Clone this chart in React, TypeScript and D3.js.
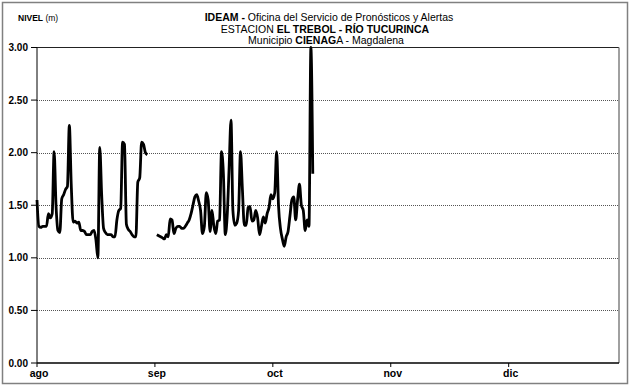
import React from "react";
import * as d3 from "d3";

// Month labels on the x axis (ticks every 31 days, as in the original)
const months = ["ago", "sep", "oct", "nov", "dic"];
const monthStartDay = [0, 31, 62, 93, 124];
const totalDays = 153;

// Y axis ticks (m)
const yTicks = [0, 0.5, 1, 1.5, 2, 2.5, 3];

// Water level readings, two per day (06h / 18h) starting 1 ago; null = no data
const nivel: (number | null)[] = [
  1.55, 1.30, 1.29, 1.30, 1.30, 1.30, 1.42, 1.38, 1.42, 2.01,
  1.50, 1.26, 1.24, 1.56, 1.60, 1.65, 1.68, 2.26, 1.70, 1.34,
  1.35, 1.33, 1.34, 1.26, 1.26, 1.25, 1.22, 1.22, 1.22, 1.25,
  1.26, 1.17, 1.00, 2.05, 1.60, 1.28, 1.24, 1.22, 1.22, 1.22,
  1.20, 1.20, 1.36, 1.45, 1.47, 2.10, 2.08, 1.32, 1.27, 1.25,
  1.22, 1.20, 1.20, 1.72, 1.76, 2.10, 2.08, 2.00, 1.98, null,
  null, null, null, 1.22, 1.21, 1.20, 1.19, 1.18, 1.22, 1.20,
  1.37, 1.36, 1.23, 1.28, 1.30, 1.30, 1.28, 1.28, 1.30, 1.33,
  1.36, 1.42, 1.50, 1.58, 1.60, 1.54, 1.45, 1.23, 1.30, 1.62,
  1.55, 1.25, 1.45, 1.30, 1.23, 1.35, 1.36, 2.01, 1.80, 1.22,
  1.40, 1.85, 2.31, 1.45, 1.31, 1.33, 1.45, 2.01, 1.65, 1.31,
  1.31, 1.48, 1.49, 1.35, 1.36, 1.45, 1.38, 1.22, 1.30, 1.39,
  1.33, 1.42, 1.48, 1.60, 1.56, 1.62, 2.01, 1.49, 1.28, 1.18,
  1.11, 1.20, 1.25, 1.40, 1.55, 1.58, 1.36, 1.55, 1.70, 1.50,
  1.45, 1.26, 1.36, 1.30, 3.00, 1.80,
];

const W = 630;
const H = 388;
const plot = { left: 37, right: 619, top: 47.5, bottom: 363 };
const FONT = "'Liberation Sans', Arial, sans-serif";
const NARROW = "'Liberation Sans Narrow', 'Arial Narrow', 'Liberation Sans', Arial, sans-serif";

export default function App() {
  const x = d3.scaleLinear().domain([0, totalDays]).range([plot.left, plot.right]);
  const y = d3.scaleLinear().domain([0, 3]).range([plot.bottom, plot.top]);

  const pts = nivel.map((v, i) => ({ d: i / 2, v }));
  const line = d3
    .line<{ d: number; v: number | null }>()
    .defined((p) => p.v != null)
    .x((p) => x(p.d))
    .y((p) => y(p.v as number))
    .curve(d3.curveMonotoneX);

  return (
    <svg
      width={W}
      height={H}
      style={{ position: "fixed", left: 0, top: 0, background: "#fff" }}
      fontFamily={FONT}
    >
      <rect x={0} y={0} width={W} height={H} fill="#fff" />
      {/* outer frame */}
      <rect x={2.5} y={2.5} width={625} height={381} fill="none" stroke="#808080" strokeWidth={1.5} />

      {/* titles */}
      <text x={18} y={21} fontSize={8.5} fill="#000">
        <tspan fontWeight="bold">NIVEL</tspan>
        <tspan> (m)</tspan>
      </text>
      <text x={329} y={21} fontSize={10.5} textAnchor="middle" fontFamily={NARROW} fill="#000">
        <tspan fontWeight="bold">IDEAM - </tspan>
        <tspan>Oficina del Servicio de Pronósticos y Alertas</tspan>
      </text>
      <text x={325} y={33} fontSize={10.5} textAnchor="middle" fontFamily={NARROW} fill="#000">
        <tspan>ESTACION </tspan>
        <tspan fontWeight="bold">EL TREBOL - RÍO TUCURINCA</tspan>
      </text>
      <text x={326} y={44} fontSize={10.5} textAnchor="middle" fontFamily={NARROW} fill="#000">
        <tspan>Municipio </tspan>
        <tspan fontWeight="bold">CIENAG</tspan>
        <tspan>A - Magdalena</tspan>
      </text>

      {/* gridlines */}
      {yTicks
        .filter((t) => t > 0 && t < 3)
        .map((t) => (
          <line
            key={"g" + t}
            x1={plot.left}
            x2={plot.right}
            y1={Math.round(y(t)) + 0.5}
            y2={Math.round(y(t)) + 0.5}
            stroke="#555"
            strokeDasharray="1 1"
          />
        ))}

      {/* plot border */}
      <line x1={plot.left} x2={plot.right} y1={plot.top} y2={plot.top} stroke="#222" strokeWidth={1} />
      <line x1={plot.right} x2={plot.right} y1={plot.top} y2={plot.bottom} stroke="#808080" strokeWidth={1.5} />

      {/* data line */}
      <path d={line(pts) || ""} fill="none" stroke="#000" strokeWidth={2.8} strokeLinejoin="round" />

      {/* axes */}
      <line x1={plot.left} x2={plot.left} y1={plot.top} y2={plot.bottom} stroke="#000" strokeWidth={1} />
      <line x1={plot.left} x2={plot.right} y1={plot.bottom} y2={plot.bottom} stroke="#000" strokeWidth={1.5} />

      {yTicks.map((t) => (
        <g key={"y" + t}>
          <line x1={plot.left - 6} x2={plot.left} y1={y(t)} y2={y(t)} stroke="#000" />
          <text x={28} y={y(t) + 3.5} fontSize={10} fontWeight="bold" textAnchor="end" fill="#000">
            {t.toFixed(2)}
          </text>
        </g>
      ))}

      {months.map((m, i) => (
        <g key={m}>
          <line
            x1={x(monthStartDay[i])}
            x2={x(monthStartDay[i])}
            y1={plot.bottom}
            y2={plot.bottom + 4}
            stroke="#000"
          />
          <text
            x={x(monthStartDay[i]) + 2}
            y={377}
            fontSize={10.5}
            fontWeight="bold"
            textAnchor="middle"
            fill="#000"
          >
            {m}
          </text>
        </g>
      ))}
    </svg>
  );
}
